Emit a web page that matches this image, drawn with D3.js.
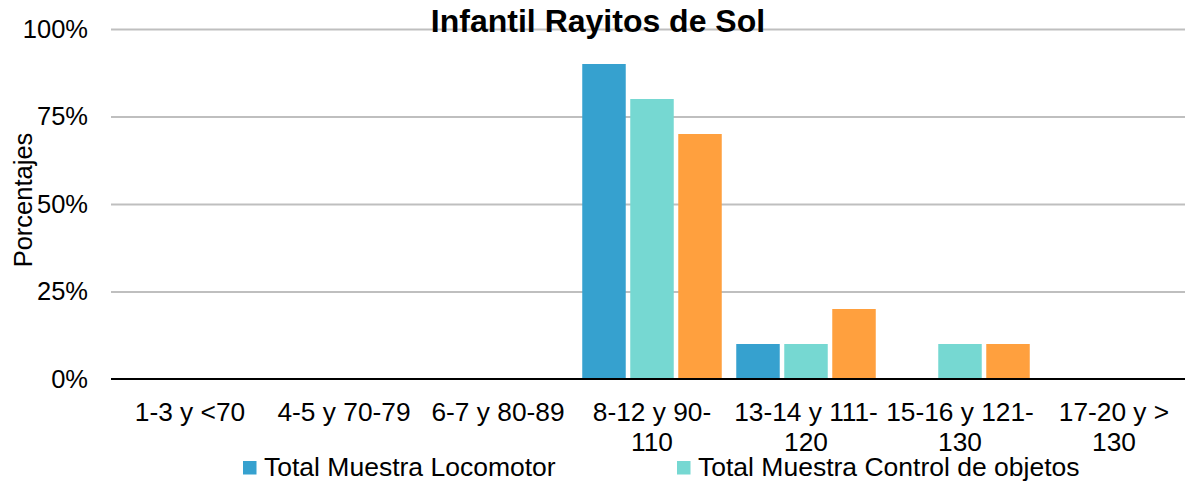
<!DOCTYPE html>
<html>
<head>
<meta charset="utf-8">
<script src="https://cdn.jsdelivr.net/npm/d3@7"></script>
<style>
  html, body { margin: 0; padding: 0; background: #fff; }
  svg { display: block; }
  text { font-family: "Liberation Sans", Arial, sans-serif; fill: #000; }
</style>
</head>
<body>
<svg id="chart" width="1185" height="484"></svg>
<script>
// ---- data ----
const categories = ["1-3 y <70", "4-5 y 70-79", "6-7 y 80-89", "8-12 y 90-110", "13-14 y 111-120", "15-16 y 121-130", "17-20 y > 130"];
const seriesNames = ["Total Muestra Locomotor", "Total Muestra Control de objetos", "Total Muestra"];
const locomotor = [0, 0, 0, 90, 10, 0, 0];
const controlObjetos = [0, 0, 0, 80, 10, 10, 0];
const totalMuestra = [0, 0, 0, 70, 20, 10, 0];
const yTicks = [0, 25, 50, 75, 100];
const titleText = "Infantil Rayitos de Sol";
const yTitle = "Porcentajes";
const colors = ["#36a1cf", "#76d8d2", "#ffa03e"];

const seriesValues = [locomotor, controlObjetos, totalMuestra];
const rows = categories.map((c, i) => ({ cat: c, vals: seriesValues.map((s, k) => ({ k, v: s[i] })) }));

const svg = d3.select("#chart");
const plotLeft = 111, plotRight = 1185, plotTop = 29, plotBottom = 379;

const x = d3.scaleBand().domain(categories).range([plotLeft + 2, plotLeft + 2 + 154 * 7]).paddingInner(0).paddingOuter(0);
const xs = d3.scaleBand().domain([0, 1, 2]).range([0, x.bandwidth()]).paddingInner(0.094).paddingOuter(0.151);
const y = d3.scaleLinear().domain([0, 100]).range([plotBottom, plotTop]);

// gridlines
const grid = svg.append("g").attr("transform", `translate(${plotLeft},0)`)
  .call(d3.axisLeft(y).tickValues(yTicks.filter(t => t > 0)).tickSize(-(plotRight - plotLeft)).tickFormat(""));
grid.select(".domain").remove();
grid.selectAll("line").attr("stroke", "#bfbfbf").attr("stroke-width", 2);

// y tick labels
const yAx = svg.append("g").attr("transform", `translate(${plotLeft},0)`)
  .call(d3.axisLeft(y).tickValues(yTicks).tickSize(0).tickPadding(23).tickFormat(d => d + "%"));
yAx.select(".domain").remove();
yAx.selectAll("text").style("font-size", "25.5px").attr("font-family", null).attr("fill", "#000");

// bars
const g = svg.append("g");
g.selectAll("g.grp").data(rows).join("g").attr("class", "grp")
  .attr("transform", d => `translate(${x(d.cat)},0)`)
  .selectAll("rect").data(d => d.vals.filter(o => o.v > 0)).join("rect")
  .attr("x", d => xs(d.k))
  .attr("width", xs.bandwidth())
  .attr("y", d => y(d.v))
  .attr("height", d => y(0) - y(d.v))
  .attr("fill", d => colors[d.k]);

// x axis
const xAx = svg.append("g").attr("transform", `translate(0,${plotBottom})`)
  .call(d3.axisBottom(x).tickSize(0).tickFormat(""));
xAx.select(".domain").remove();
svg.append("line").attr("x1", plotLeft).attr("x2", plotRight).attr("y1", plotBottom).attr("y2", plotBottom)
  .attr("stroke", "#000").attr("stroke-width", 2.2);

// wrapped x labels
const measure = svg.append("text").style("font-size", "26.3px").attr("visibility", "hidden");
function textW(s) { measure.text(s); return measure.node().getComputedTextLength(); }
function wrap(label, maxW) {
  const tokens = label.match(/[^\s-]+-|[^\s-]+\s*|\s+/g) || [label];
  const lines = []; let cur = "";
  tokens.forEach(t => {
    const test = cur + t;
    if (cur && textW(test.trim()) > maxW) { lines.push(cur.trim()); cur = t; }
    else cur = test;
  });
  if (cur.trim()) lines.push(cur.trim());
  return lines;
}
const labG = svg.append("g");
categories.forEach(c => {
  const lines = wrap(c, x.bandwidth() + 2);
  const cx = x(c) + x.bandwidth() / 2;
  const t = labG.append("text").attr("text-anchor", "middle").style("font-size", "26.3px");
  lines.forEach((ln, i) => {
    t.append("tspan").attr("x", cx).attr("y", 421 + i * 30).text(ln);
  });
});
measure.remove();

// y axis title
svg.append("text").attr("transform", "translate(32,200) rotate(-90)")
  .attr("text-anchor", "middle").style("font-size", "25.5px").text(yTitle);

// title
svg.append("text").attr("x", 598).attr("y", 32).attr("text-anchor", "middle")
  .style("font-size", "32px").style("font-weight", "bold").text(titleText);

// legend (first two entries visible)
const legX = d3.scalePoint().domain([0, 1]).range([243, 677]);
const leg = svg.append("g").selectAll("g").data([0, 1]).join("g")
  .attr("transform", d => `translate(${legX(d)},461)`);
leg.append("rect").attr("width", 13.5).attr("height", 13.5).attr("fill", d => colors[d]);
leg.append("text").attr("x", 21).attr("y", 14.5).style("font-size", "26.5px").text(d => seriesNames[d]);
</script>
</body>
</html>
